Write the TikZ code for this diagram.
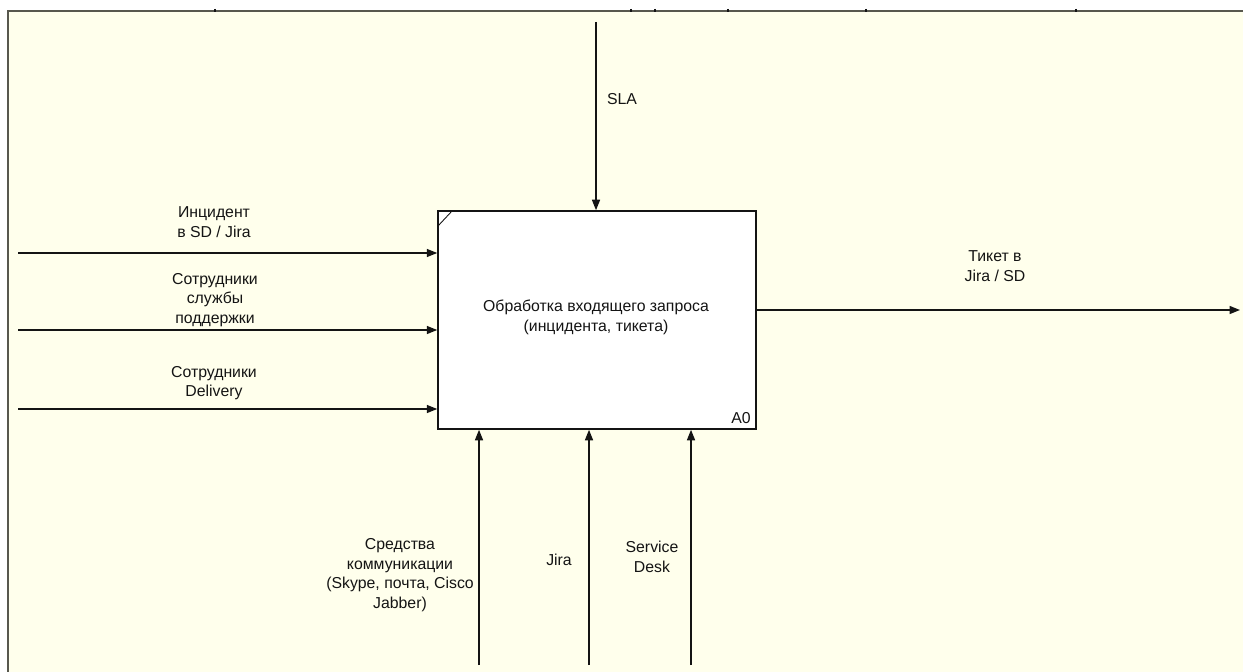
\documentclass[tikz,border=0pt]{standalone}
\usepackage{fontspec}
\setmainfont{Liberation Sans}
\usetikzlibrary{arrows.meta,positioning,calc}
\definecolor{Cream}{RGB}{255,255,236}
\definecolor{Frame}{RGB}{88,88,78}
\definecolor{Ink}{RGB}{20,20,20}
\tikzset{
  >={Triangle[length=2.1mm,width=1.6mm]},
  func/.style={draw=Ink,line width=0.9pt,fill=white,minimum width=6.36cm,minimum height=4.36cm,inner sep=0pt},
  txt/.style={font=\fontsize{9}{11.2}\selectfont,text=Ink,align=center,inner sep=0pt},
  arc/.style={->,draw=Ink,line width=0.85pt},
  tick/.style={draw=Ink,line width=1pt}
}
\begin{document}
\begin{tikzpicture}[x=0.02cm,y=-0.02cm]
  \useasboundingbox (0,0) rectangle (1243,672);
  \fill[white] (0,0) rectangle (1243,672);
  \fill[Cream] (8,11) rectangle (1243,672);
  \draw[Frame,line width=1.4pt] (8,672) -- (8,11) -- (1243,11);
  \foreach \tx in {215,631,655,728,866,1076}
    \draw[tick] (\tx,9) -- (\tx,12);
  % function block
  \node[func] (proc) at (597,320) {};
  \draw[Ink,line width=0.5pt] (438,226) -- (452,211);
  \node[txt] (ptext) at (596,317) {Обработка входящего запроса\\(инцидента, тикета)};
  \node[txt] (num) at (741,418) {A0};
  % inputs
  \coordinate (in1) at (18,253);
  \coordinate (in2) at (18,330);
  \coordinate (in3) at (18,409);
  \draw[arc] (in1) -- (in1 -| proc.west);
  \draw[arc] (in2) -- (in2 -| proc.west);
  \draw[arc] (in3) -- (in3 -| proc.west);
  \node[txt] (l1) at (214,222) {Инцидент\\в SD / Jira};
  \node[txt] (l2) at (215,300) {Сотрудники\\службы\\поддержки};
  \node[txt] (l3) at (214,383) {Сотрудники\\Delivery};
  % control
  \coordinate (ctl) at (596,22);
  \draw[arc] (ctl) -- (ctl |- proc.north);
  \node[txt] (sla) at (622,99) {SLA};
  % output
  \coordinate (out) at (1240,310);
  \draw[arc] (out -| proc.east) -- (out);
  \node[txt] (lout) at (995,266) {Тикет в\\Jira / SD};
  % mechanisms
  \coordinate (m1) at (479,665);
  \coordinate (m2) at (589,665);
  \coordinate (m3) at (691,665);
  \draw[arc] (m1) -- (m1 |- proc.south);
  \draw[arc] (m2) -- (m2 |- proc.south);
  \draw[arc] (m3) -- (m3 |- proc.south);
  \node[txt] (lm1) at (400,575) {Средства\\коммуникации\\(Skype, почта, Cisco\\Jabber)};
  \node[txt] (lm2) at (559,560) {Jira};
  \node[txt] (lm3) at (652,557) {Service\\Desk};
\end{tikzpicture}
\end{document}
